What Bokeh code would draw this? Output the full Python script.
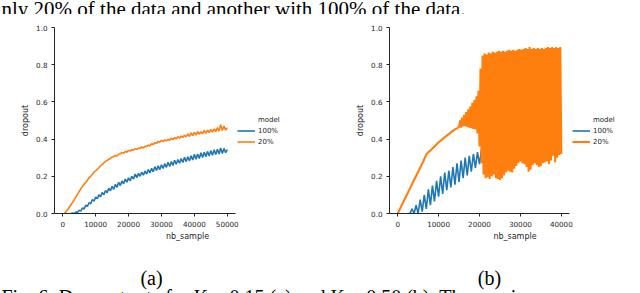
from bokeh.plotting import figure
from bokeh.models import Range1d, FixedTicker, Legend, LegendItem
from bokeh.layouts import row, column
from bokeh.core.properties import value
from bokeh.embed import file_html
from bokeh.resources import INLINE

BLUE = "#1f77b4"
ORANGE = "#ff7f0e"
INK = "#262626"

# ---------------- data: panel (a) K = 0.15 ----------------
a_x_orange = list(range(500, 50001, 500))
a_y_orange = [
    0.000, 0.010, 0.022, 0.034, 0.047, 0.060, 0.074, 0.089, 0.104, 0.118,
    0.133, 0.146, 0.157, 0.167, 0.179, 0.192, 0.200, 0.211, 0.222, 0.229,
    0.238, 0.246, 0.257, 0.263, 0.272, 0.281, 0.284, 0.292, 0.296, 0.303,
    0.306, 0.312, 0.309, 0.318, 0.321, 0.328, 0.324, 0.333, 0.330, 0.340,
    0.336, 0.343, 0.340, 0.348, 0.345, 0.352, 0.349, 0.358, 0.352, 0.362,
    0.360, 0.368, 0.363, 0.375, 0.371, 0.381, 0.377, 0.388, 0.383, 0.394,
    0.387, 0.396, 0.391, 0.399, 0.394, 0.404, 0.398, 0.408, 0.401, 0.413,
    0.405, 0.416, 0.409, 0.421, 0.412, 0.428, 0.414, 0.434, 0.418, 0.437,
    0.421, 0.441, 0.426, 0.440, 0.428, 0.447, 0.431, 0.449, 0.435, 0.452,
    0.437, 0.455, 0.440, 0.462, 0.443, 0.478, 0.446, 0.470, 0.448, 0.462,
]
a_x_blue = list(range(2500, 50001, 500))
a_y_blue = [
    0.000, 0.003, 0.000, 0.008, 0.006, 0.018, 0.013, 0.030, 0.024, 0.045,
    0.038, 0.058, 0.052, 0.075, 0.066, 0.088, 0.079, 0.100, 0.090, 0.113,
    0.101, 0.124, 0.112, 0.136, 0.122, 0.146, 0.130, 0.157, 0.141, 0.168,
    0.150, 0.175, 0.160, 0.185, 0.168, 0.192, 0.176, 0.200, 0.185, 0.212,
    0.193, 0.215, 0.200, 0.222, 0.206, 0.228, 0.212, 0.236, 0.218, 0.243,
    0.224, 0.252, 0.231, 0.256, 0.236, 0.262, 0.242, 0.268, 0.248, 0.276,
    0.253, 0.279, 0.258, 0.286, 0.265, 0.290, 0.270, 0.296, 0.274, 0.302,
    0.279, 0.305, 0.283, 0.310, 0.288, 0.318, 0.292, 0.320, 0.296, 0.327,
    0.301, 0.330, 0.305, 0.334, 0.309, 0.338, 0.313, 0.342, 0.317, 0.346,
    0.320, 0.352, 0.323, 0.350, 0.327, 0.344,
]

# ---------------- data: panel (b) K = 0.50 ----------------
b_x_orange = list(range(0, 15001, 500)) + list(range(15250, 40001, 250))
b_y_orange = [
    # 0 .. 15000 (step 500)
    0.000, 0.022, 0.045, 0.068, 0.090, 0.112, 0.135, 0.157, 0.180, 0.202,
    0.224, 0.246, 0.268, 0.292, 0.318, 0.330, 0.338, 0.349, 0.360, 0.371,
    0.383, 0.391, 0.401, 0.410, 0.419, 0.427, 0.436, 0.444, 0.452, 0.458,
    0.466,
    # 15250 .. 20000 (step 250)
    0.500, 0.462, 0.515, 0.468, 0.530, 0.470, 0.545, 0.466, 0.560, 0.462,
    0.575, 0.458, 0.595, 0.455, 0.610, 0.452, 0.630, 0.430, 0.660, 0.360,
    # 20250 .. 40000 (step 250)
    0.780, 0.270, 0.850, 0.210, 0.860, 0.190, 0.855, 0.195, 0.865, 0.185,
    0.860, 0.200, 0.870, 0.210, 0.865, 0.190, 0.870, 0.185, 0.875, 0.180,
    0.870, 0.190, 0.875, 0.205, 0.870, 0.220, 0.875, 0.230, 0.880, 0.225,
    0.875, 0.220, 0.880, 0.240, 0.875, 0.255, 0.880, 0.270, 0.885, 0.280,
    0.880, 0.270, 0.885, 0.265, 0.890, 0.250, 0.885, 0.225, 0.895, 0.235,
    0.885, 0.260, 0.890, 0.270, 0.885, 0.260, 0.890, 0.250, 0.885, 0.255,
    0.890, 0.270, 0.885, 0.275, 0.890, 0.280, 0.895, 0.265, 0.890, 0.285,
    0.895, 0.310, 0.890, 0.275, 0.895, 0.300, 0.890, 0.315, 0.895, 0.320,
]
b_x_blue = list(range(2500, 40001, 500))
b_y_blue = [
    0.000, 0.000, 0.025, 0.000, 0.045, 0.000, 0.075, 0.010, 0.100, 0.025,
    0.130, 0.045, 0.150, 0.065, 0.175, 0.090, 0.200, 0.105, 0.220, 0.125,
    0.230, 0.140, 0.250, 0.155, 0.270, 0.170, 0.285, 0.190, 0.300, 0.205,
    0.310, 0.225, 0.320, 0.245, 0.330, 0.265, 0.345, 0.285, 0.360, 0.300,
    0.370, 0.310, 0.380, 0.320, 0.390, 0.325, 0.395, 0.335, 0.400, 0.340,
    0.405, 0.350, 0.410, 0.355, 0.415, 0.360, 0.420, 0.365, 0.425, 0.370,
    0.430, 0.375, 0.435, 0.380, 0.440, 0.385, 0.445, 0.390, 0.450, 0.395,
    0.455, 0.400, 0.460, 0.405, 0.465, 0.420,
]

assert len(a_x_orange) == len(a_y_orange)
assert len(a_x_blue) == len(a_y_blue)
assert len(b_x_orange) == len(b_y_orange)
assert len(b_x_blue) == len(b_y_blue)

# ---------------- ticks / labels ----------------
a_x_limits = (-2500, 52500)
b_x_limits = (-2000, 42000)
a_x_ticks = [0, 10000, 20000, 30000, 40000, 50000]
a_x_tick_labels = ["0", "10000", "20000", "30000", "40000", "50000"]
b_x_ticks = [0, 10000, 20000, 30000, 40000]
b_x_tick_labels = ["0", "10000", "20000", "30000", "40000"]
y_ticks = [0.0, 0.2, 0.4, 0.6, 0.8, 1.0]
y_tick_labels = ["0.0", "0.2", "0.4", "0.6", "0.8", "1.0"]
series_labels = ["100%", "20%"]
legend_title = "model"
x_label = "nb_sample"
y_label = "dropout"

top_line = "nly 20% of the data and another with 100% of the data."
panel_tags = ["(a)", "(b)"]
caption_line = "Fig. 6: Dropout rate for K = 0.15 (a) and K = 0.50 (b). The x-axis represen"

SERIF = "Liberation Serif"
SANS = "DejaVu Sans"
FIG_W = 320


def style_axes(p, xticks, xlabels, bounds):
    p.xaxis.ticker = FixedTicker(ticks=xticks)
    p.xaxis.major_label_overrides = {t: l for t, l in zip(xticks, xlabels)}
    p.xaxis.bounds = bounds
    p.yaxis.ticker = FixedTicker(ticks=y_ticks)
    p.yaxis.major_label_overrides = {t: l for t, l in zip(y_ticks, y_tick_labels)}
    p.xaxis.axis_label = x_label
    p.yaxis.axis_label = y_label
    for ax in (p.xaxis[0], p.yaxis[0]):
        ax.axis_line_color = INK
        ax.axis_line_width = 1
        ax.major_tick_line_color = INK
        ax.major_tick_line_width = 1
        ax.major_tick_in = 0
        ax.major_tick_out = 3
        ax.minor_tick_line_color = None
        ax.major_label_text_font = SANS
        ax.major_label_text_font_size = "7.2px"
        ax.major_label_text_color = INK
        ax.axis_label_text_font = SANS
        ax.axis_label_text_font_size = "8px"
        ax.axis_label_text_font_style = "normal"
        ax.axis_label_text_color = INK
    p.xaxis.major_label_standoff = 4
    p.xaxis.axis_label_standoff = 2
    p.yaxis.major_label_standoff = 4
    p.yaxis.axis_label_standoff = 3


def make_panel(limits, border_left, axis_px, xticks, xlabels, xo, yo, xb, yb, wo):
    # the frame runs to the figure's right edge so that the legend can sit in it;
    # the x axis line itself is bounded to the plotted limits
    frame_w = FIG_W - border_left
    x_end = limits[0] + (limits[1] - limits[0]) * frame_w / axis_px
    p = figure(width=FIG_W, height=232, x_range=Range1d(limits[0], x_end), y_range=Range1d(0, 1),
               output_backend="svg", toolbar_location=None,
               min_border_left=border_left, min_border_right=0, min_border_top=13, min_border_bottom=33)
    p.outline_line_color = None
    p.grid.visible = False
    style_axes(p, xticks, xlabels, limits)
    rb = p.line(xb, yb, line_color=BLUE, line_width=1.6)
    ro = p.line(xo, yo, line_color=ORANGE, line_width=wo)
    rt = p.line(x=[], y=[], line_alpha=0)   # holder row for the legend title
    leg = Legend(items=[LegendItem(label=legend_title, renderers=[rt]),
                        LegendItem(label=series_labels[0], renderers=[rb]),
                        LegendItem(label=series_labels[1], renderers=[ro])],
                 location=(183, 66), orientation="vertical",
                 border_line_color=None, background_fill_alpha=0,
                 padding=0, margin=0, spacing=0, glyph_width=18, glyph_height=11,
                 label_height=11, label_standoff=3,
                 label_text_font=SANS, label_text_font_size="7px", label_text_color=INK)
    p.add_layout(leg)
    return p


pa = make_panel(a_x_limits, 54, 181, a_x_ticks, a_x_tick_labels,
                a_x_orange, a_y_orange, a_x_blue, a_y_blue, 1.6)
pb = make_panel(b_x_limits, 69, 180, b_x_ticks, b_x_tick_labels,
                b_x_orange, b_y_orange, b_x_blue, b_y_blue, 2.1)


def strip(h):
    s = figure(width=640, height=h, x_range=Range1d(0, 640), y_range=Range1d(h, 0),
               output_backend="svg", toolbar_location=None, min_border=0,
               x_axis_location=None, y_axis_location=None)
    s.outline_line_color = None
    s.grid.visible = False
    return s


top = strip(14)
top.text(x=[1], y=[8.5], text=[top_line], text_font=value(SERIF), text_font_size=value("21px"),
         text_color="#000000", text_baseline="alphabetic")

bottom = strip(47)
bottom.text(x=[151, 489], y=[31, 31], text=panel_tags, text_font=value(SERIF),
            text_font_size=value("20px"), text_color="#000000", text_align="center",
            text_baseline="alphabetic")
bottom.text(x=[1], y=[50], text=[caption_line], text_font=value(SERIF), text_font_size=value("20px"),
            text_color="#000000", text_baseline="alphabetic")

layout = column(top, row(pa, pb), bottom)
open("out.html", "w").write(file_html(layout, INLINE))
